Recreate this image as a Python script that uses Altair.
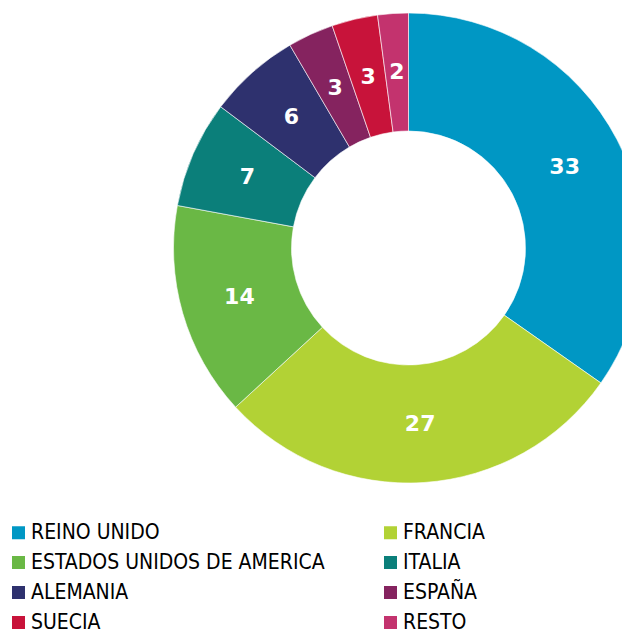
import altair as alt
import pandas as pd

paises = ["REINO UNIDO", "FRANCIA", "ESTADOS UNIDOS DE AMERICA", "ITALIA",
          "ALEMANIA", "ESPAÑA", "SUECIA", "RESTO"]
valores = [33, 27, 14, 7, 6, 3, 3, 2]
colores = ["#0097C4", "#B2D235", "#6AB845", "#0B7F7A",
           "#2E316E", "#85235F", "#C8133A", "#C3336E"]
orden = list(range(len(paises)))

df = pd.DataFrame({"pais": paises, "valor": valores, "orden": orden})

base = alt.Chart(df).encode(
    theta=alt.Theta("valor:Q", stack=True),
    order=alt.Order("orden:Q"),
    x=alt.value(400.5),
    y=alt.value(240),
)

arcs = base.mark_arc(radius=235, radius2=117, stroke="white", strokeWidth=0.6).encode(
    color=alt.Color(
        "pais:N",
        sort=paises,
        scale=alt.Scale(domain=paises, range=colores),
        legend=alt.Legend(
            title=None,
            orient="none",
            direction="horizontal",
            legendX=0,
            legendY=514,
            columns=2,
            columnPadding=55,
            rowPadding=8,
            symbolType="square",
            symbolSize=169,
            symbolStrokeWidth=0,
            labelFont="DejaVu Sans Condensed, Liberation Sans",
            labelFontSize=21,
            labelColor="#000000",
            labelOffset=2,
            labelLimit=500,
            padding=0,
        ),
    )
)

labels = base.mark_text(
    radius=176, font="DejaVu Sans", fontWeight="bold", fontSize=22, color="white"
).encode(text="valor:Q")

chart = (arcs + labels).properties(
    width=614, height=628, padding=0, autosize="none"
).configure_view(stroke=None)

chart.save("out.html", embed_options={"renderer": "svg", "actions": False})
